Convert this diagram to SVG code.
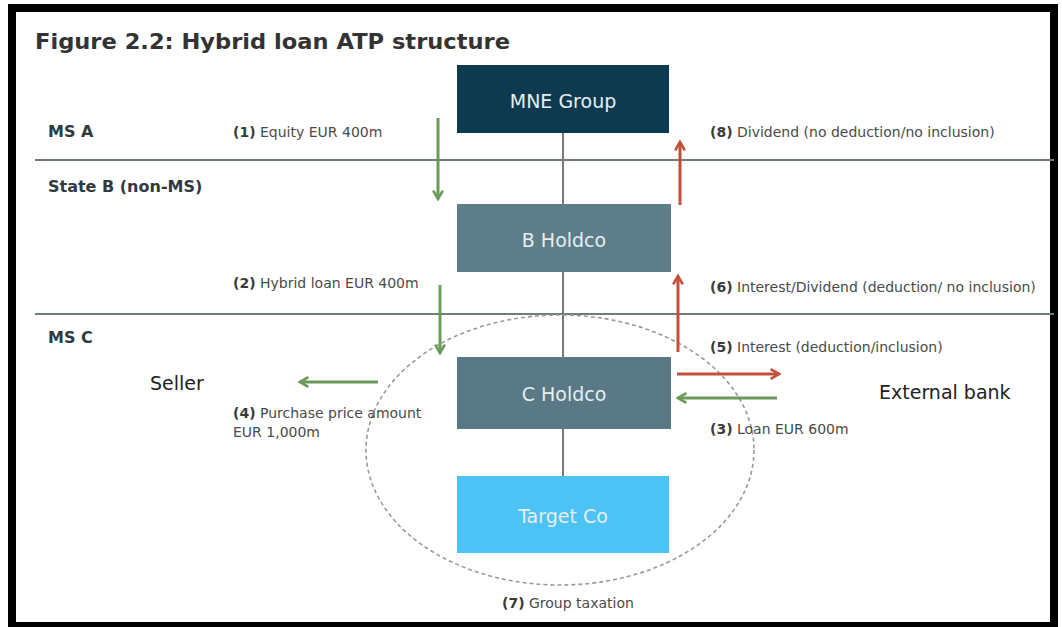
<svg xmlns="http://www.w3.org/2000/svg" width="1062" height="627" viewBox="0 0 1062 627">
<defs>
<style>
.lbl{font-family:"DejaVu Sans",Verdana,sans-serif;font-size:14px;fill:#4a4a4a}
.lbl tspan.n{font-weight:bold;fill:#3a3a3a}
.sec{font-family:"DejaVu Sans",Verdana,sans-serif;font-size:16px;font-weight:bold;fill:#2e3a40}
.box{font-family:"DejaVu Sans",Verdana,sans-serif;font-size:19px;fill:#e6eef1;text-anchor:middle}
.ext{font-family:"DejaVu Sans",Verdana,sans-serif;font-size:19px;fill:#222}
.div{stroke:#6f7c7c;stroke-width:2}
.g{stroke:#6b9a5c;stroke-width:3;fill:none}
.r{stroke:#c2503a;stroke-width:3;fill:none}
</style>
<marker id="ag" viewBox="0 0 10 10" refX="8" refY="5" markerWidth="4" markerHeight="4" orient="auto" markerUnits="strokeWidth">
<path d="M1,1 L8,5 L1,9" fill="none" stroke="#6b9a5c" stroke-width="2.2"/>
</marker>
<marker id="ar" viewBox="0 0 10 10" refX="8" refY="5" markerWidth="4" markerHeight="4" orient="auto" markerUnits="strokeWidth">
<path d="M1,1 L8,5 L1,9" fill="none" stroke="#c2503a" stroke-width="2.2"/>
</marker>
</defs>
<rect x="0" y="0" width="1062" height="627" fill="#fff"/>
<rect x="12" y="8" width="1042" height="618" fill="none" stroke="#000" stroke-width="8"/>
<text x="35" y="49" font-family="DejaVu Sans,Verdana,sans-serif" font-size="22" font-weight="bold" fill="#333" textLength="475" lengthAdjust="spacingAndGlyphs">Figure 2.2: Hybrid loan ATP structure</text>

<g id="dividers">
<line class="div" x1="35" y1="160" x2="1054" y2="160"/>
<line class="div" x1="35" y1="314" x2="1054" y2="314"/>
</g>
<text class="sec" x="48" y="137">MS A</text>
<text class="sec" x="48" y="192">State B (non-MS)</text>
<text class="sec" x="48" y="343">MS C</text>

<g id="connectors">
<line x1="563" y1="133" x2="563" y2="476" stroke="#7a7a7a" stroke-width="2"/>
<ellipse cx="560" cy="450" rx="194" ry="135" fill="none" stroke="#9a9a9a" stroke-width="1.6" stroke-dasharray="4 3"/>
<line class="g" x1="438" y1="118" x2="438" y2="199" marker-end="url(#ag)"/>
<line class="g" x1="440" y1="285" x2="440" y2="353" marker-end="url(#ag)"/>
<line class="r" x1="680" y1="205" x2="680" y2="142" marker-end="url(#ar)"/>
<line class="r" x1="678" y1="352" x2="678" y2="276" marker-end="url(#ar)"/>
<line class="r" x1="677" y1="374" x2="779" y2="374" marker-end="url(#ar)"/>
<line class="g" x1="777" y1="398" x2="678" y2="398" marker-end="url(#ag)"/>
<line class="g" x1="378" y1="382" x2="300" y2="382" marker-end="url(#ag)"/>
</g>

<g id="mne">
<rect x="457" y="65" width="212" height="68" fill="#0e3a50"/>
<text class="box" x="563" y="108">MNE Group</text>
</g>
<g id="bholdco">
<rect x="457" y="204" width="214" height="68" fill="#5d7d89"/>
<text class="box" x="564" y="247">B Holdco</text>
</g>
<g id="choldco">
<rect x="457" y="357" width="214" height="72" fill="#587985"/>
<text class="box" x="564" y="401">C Holdco</text>
</g>
<g id="targetco">
<rect x="457" y="476" width="212" height="77" fill="#4cc3f4"/>
<text class="box" x="563" y="523">Target Co</text>
</g>
<g id="seller"><text class="ext" x="150" y="390">Seller</text></g>
<g id="bank"><text class="ext" x="879" y="399">External bank</text></g>

<g id="labels">
<text class="lbl" x="233" y="137"><tspan class="n">(1)</tspan> Equity EUR 400m</text>
<text class="lbl" x="710" y="137"><tspan class="n">(8)</tspan> Dividend (no deduction/no inclusion)</text>
<text class="lbl" x="233" y="288"><tspan class="n">(2)</tspan> Hybrid loan EUR 400m</text>
<text class="lbl" x="710" y="292"><tspan class="n">(6)</tspan> Interest/Dividend (deduction/ no inclusion)</text>
<text class="lbl" x="710" y="352"><tspan class="n">(5)</tspan> Interest (deduction/inclusion)</text>
<text class="lbl" x="710" y="434"><tspan class="n">(3)</tspan> Loan EUR 600m</text>
<text class="lbl" x="233" y="418"><tspan class="n">(4)</tspan> Purchase price amount</text>
<text class="lbl" x="233" y="437">EUR 1,000m</text>
<text class="lbl" x="502" y="608"><tspan class="n">(7)</tspan> Group taxation</text>
</g>
</svg>
